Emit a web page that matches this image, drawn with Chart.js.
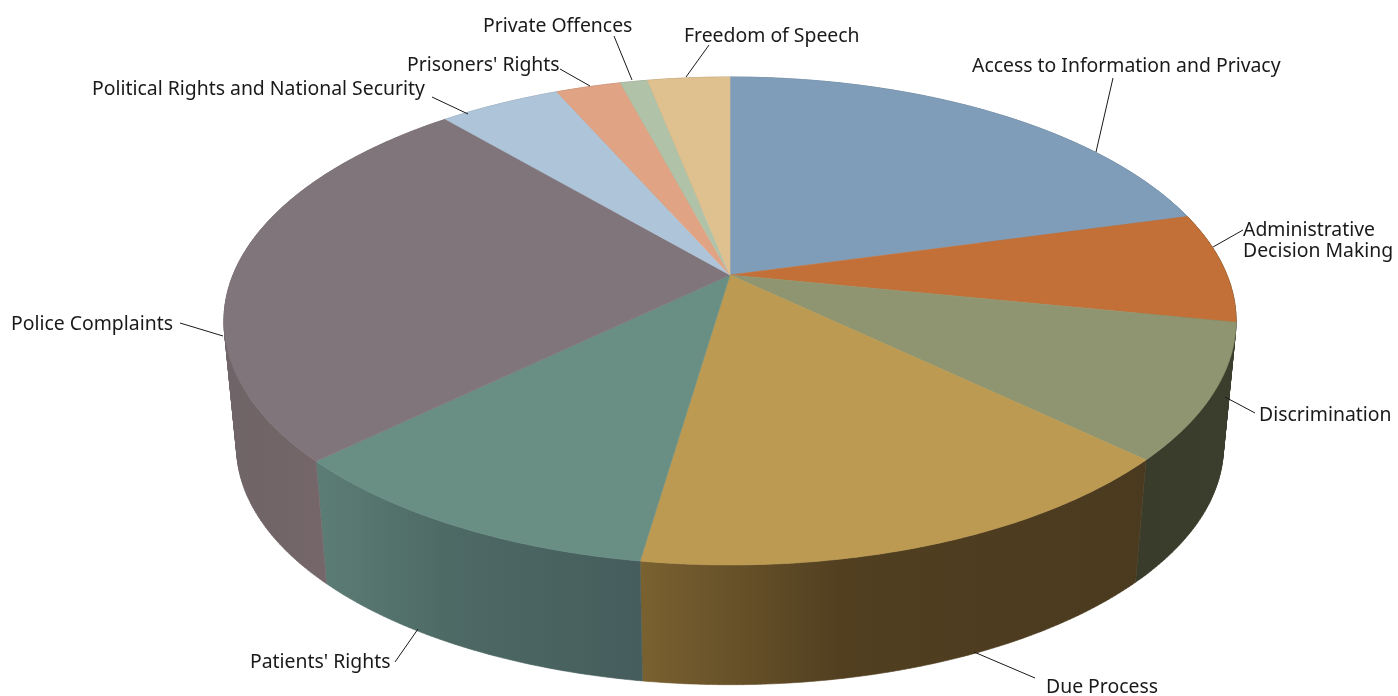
<!DOCTYPE html>
<html>
<head>
<meta charset="utf-8">
<style>
  html, body { margin: 0; padding: 0; background: #fff; }
  canvas { display: block; }
</style>
<script src="https://cdn.jsdelivr.net/npm/chart.js@4"></script>
</head>
<body>
<canvas id="chart" width="1398" height="696"></canvas>
<script>
const categories = ['Access to Information and Privacy', ['Administrative', 'Decision Making'], 'Discrimination', 'Due Process',
  "Patients' Rights", 'Police Complaints', 'Political Rights and National Security', "Prisoners' Rights", 'Private Offences', 'Freedom of Speech'];
const shares = [20.8, 7.3, 8.9, 15.35, 10.55, 25.75, 4.65, 2.5, 1.05, 3.15];

const faceColors = ['#7f9db9', '#c27038', '#8e9570', '#bc9a52', '#698f85', '#80757a', '#aec4d9', '#e0a485', '#b0c2a8', '#dfc08f'];
const wallLeft = ['#5a6f83', '#5a3a20', '#3a3c2b', '#7a6130', '#5c7d75', '#6f6467', '#7a8a99', '#9a7059', '#7c8a76', '#9a8563'];
const wallMid = ['#5a6f83', '#523a20', '#3b3d2c', '#513f20', '#4e6a65', '#746669', '#7a8a99', '#9a7059', '#7c8a76', '#9a8563'];
const wallRight = ['#5a6f83', '#4a3a20', '#3c3e2d', '#4a3a1f', '#455d5c', '#77686c', '#7a8a99', '#9a7059', '#7c8a76', '#9a8563'];

// label text anchor [x, baseline] and leader line [x1, y1, x2, y2], same order as categories
const labelAt = [[972, 72], [1243, 236], [1259, 421], [1046, 693], [250, 668], [11, 330], [92, 95], [407, 71], [483, 32], [684, 42]];
const leaders = [
  [1113, 78, 1096, 152], [1243, 230, 1213, 247], [1255, 413, 1225, 397], [1035, 678, 974, 652], [395, 662, 418, 629],
  [180, 323, 223, 336], [432, 97, 468, 114], [560, 69, 590, 86], [614, 36, 632, 80], [709, 45, 686, 77]
];

// tilted disc: unit circle to screen, nearer edge drawn larger
const CX = 730, TOP_Y = 275, BOTTOM_Y = 402, PERSP = 0.1885, RX = 497, RY = 235.3, BOTTOM_SCALE = 0.975;

function project(angle, apexY, scale) {
  const u = Math.cos(angle), v = Math.sin(angle), w = 1 - PERSP * v;
  return [CX + scale * RX * u / w, apexY + scale * RY * v / w];
}

function rim(start, end, apexY, scale) {
  const steps = Math.max(2, Math.ceil((end - start) / 0.01)), pts = [];
  for (let i = 0; i <= steps; i++) pts.push(project(start + (end - start) * i / steps, apexY, scale));
  return pts;
}

function addPoly(ctx, pts) {
  pts.forEach((p, i) => i ? ctx.lineTo(p[0], p[1]) : ctx.moveTo(p[0], p[1]));
  ctx.closePath();
}

// strips flip direction past the silhouette, keep them all one way round or nonzero fill cancels them
function oriented(pts) {
  let area = 0;
  pts.forEach((p, i) => {
    const q = pts[(i + 1) % pts.length];
    area += p[0] * q[1] - q[0] * p[1];
  });
  return area < 0 ? pts.slice().reverse() : pts;
}

const pie3d = {
  id: 'pie3d',
  beforeDatasetDraw(chart, args) {
    const ctx = chart.ctx;
    const arcs = args.meta.data;
    ctx.save();

    // side walls first, one path of strips per slice; the top face covers the back part
    arcs.forEach((arc, i) => {
      const top = rim(arc.startAngle, arc.endAngle, TOP_Y, 1);
      const bottom = rim(arc.startAngle, arc.endAngle, BOTTOM_Y, BOTTOM_SCALE);
      const xs = top.concat(bottom).map(p => p[0]);
      const grad = ctx.createLinearGradient(Math.min(...xs), 0, Math.max(...xs), 0);
      grad.addColorStop(0, wallLeft[i]);
      grad.addColorStop(0.4, wallMid[i]);
      grad.addColorStop(1, wallRight[i]);
      ctx.fillStyle = grad;
      ctx.strokeStyle = grad;
      ctx.lineWidth = 0.6;
      ctx.beginPath();
      for (let s = 0; s < top.length - 1; s++) {
        addPoly(ctx, oriented([top[s], top[s + 1], bottom[s + 1], bottom[s]]));
      }
      ctx.fill();
      ctx.stroke();
    });

    arcs.forEach((arc, i) => {
      ctx.beginPath();
      addPoly(ctx, [[CX, TOP_Y]].concat(rim(arc.startAngle, arc.endAngle, TOP_Y, 1)));
      ctx.fillStyle = faceColors[i];
      ctx.strokeStyle = faceColors[i];
      ctx.lineWidth = 0.6;
      ctx.fill();
      ctx.stroke();
    });
    ctx.restore();
    return false;
  },
  afterDraw(chart) {
    const ctx = chart.ctx;
    ctx.save();
    ctx.strokeStyle = '#1a1a1a';
    ctx.lineWidth = 1;
    leaders.forEach(l => {
      ctx.beginPath();
      ctx.moveTo(l[0], l[1]);
      ctx.lineTo(l[2], l[3]);
      ctx.stroke();
    });
    ctx.fillStyle = '#1a1a1a';
    ctx.font = '19.4px "Noto Sans", sans-serif';
    ctx.textBaseline = 'alphabetic';
    chart.data.labels.forEach((label, i) => {
      const lines = Array.isArray(label) ? label : [label];
      lines.forEach((line, j) => ctx.fillText(line, labelAt[i][0], labelAt[i][1] + j * 21));
    });
    ctx.restore();
  }
};

new Chart(document.getElementById('chart'), {
  type: 'pie',
  data: {
    labels: categories,
    datasets: [{ data: shares, backgroundColor: faceColors, borderWidth: 0 }]
  },
  options: {
    responsive: false,
    animation: false,
    plugins: { legend: { display: false }, tooltip: { enabled: false } }
  },
  plugins: [pie3d]
});
</script>
</body>
</html>
